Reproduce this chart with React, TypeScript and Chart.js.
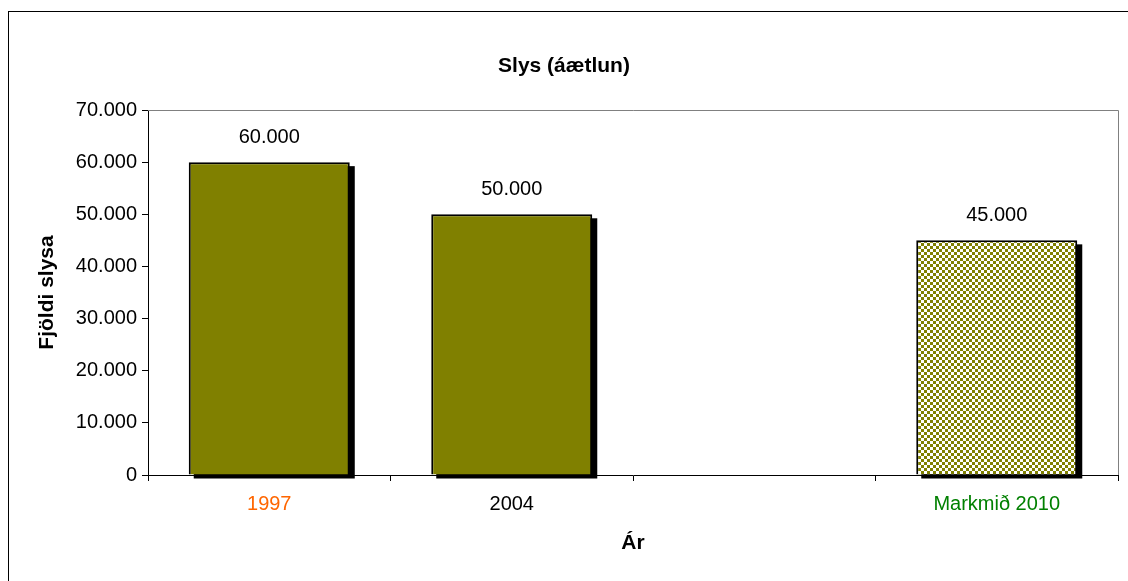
import React, { useEffect, useRef } from "react";
import { Chart, registerables } from "chart.js";

Chart.register(...registerables);

const categories = ["1997", "2004", "", "Markmið 2010"];
const values: (number | null)[] = [60000, 50000, null, 45000];
const labelColors = ["#FF6600", "#000000", "#000000", "#008000"];
const yTicks = [0, 10000, 20000, 30000, 40000, 50000, 60000, 70000];
const chartTitle = "Slys (áætlun)";
const yTitle = "Fjöldi slysa";
const xTitle = "Ár";

const FONT = "'Liberation Sans', Arial, sans-serif";
const OLIVE = "#808000";

function fmt(v: number): string {
  return Math.round(v).toString().replace(/\B(?=(\d{3})+(?!\d))/g, ".");
}

function makePattern(): CanvasPattern | string {
  const c = document.createElement("canvas");
  c.width = 6;
  c.height = 6;
  const g = c.getContext("2d");
  if (!g) return OLIVE;
  g.fillStyle = "#ffffff";
  g.fillRect(0, 0, 6, 6);
  g.fillStyle = OLIVE;
  g.fillRect(0, 0, 3, 3);
  g.fillRect(3, 3, 3, 3);
  const p = g.createPattern(c, "repeat");
  return p || OLIVE;
}

export default function App() {
  const ref = useRef<HTMLCanvasElement | null>(null);

  useEffect(() => {
    document.body.style.margin = "0";
    const canvas = ref.current;
    if (!canvas) return;
    const pattern = makePattern();

    const framePlugin = {
      id: "frame",
      beforeDraw(chart: any) {
        const ctx = chart.ctx;
        ctx.save();
        ctx.fillStyle = "#ffffff";
        ctx.fillRect(0, 0, chart.width, chart.height);
        ctx.strokeStyle = "#000000";
        ctx.lineWidth = 1;
        ctx.strokeRect(8.5, 11.5, 1130, 580);
        ctx.restore();
      },
      beforeDatasetsDraw(chart: any) {
        const ctx = chart.ctx;
        const a = chart.chartArea;
        ctx.save();
        ctx.strokeStyle = "#808080";
        ctx.lineWidth = 1;
        ctx.beginPath();
        ctx.moveTo(a.left, Math.round(a.top) + 0.5);
        ctx.lineTo(Math.round(a.right) + 0.5, Math.round(a.top) + 0.5);
        ctx.lineTo(Math.round(a.right) + 0.5, a.bottom);
        ctx.stroke();
        const meta = chart.getDatasetMeta(0);
        ctx.fillStyle = "#000000";
        meta.data.forEach((el: any, i: number) => {
          if (values[i] == null) return;
          const x = el.x - el.width / 2;
          ctx.fillRect(x + 5, el.y + 4, el.width, el.base - el.y);
        });
        ctx.restore();
      },
      afterDatasetsDraw(chart: any) {
        const ctx = chart.ctx;
        const meta = chart.getDatasetMeta(0);
        ctx.save();
        ctx.fillStyle = "#000000";
        ctx.font = `20px ${FONT}`;
        ctx.textAlign = "center";
        ctx.textBaseline = "middle";
        meta.data.forEach((el: any, i: number) => {
          const v = values[i];
          if (v == null) return;
          ctx.fillText(fmt(v), el.x, el.y - 25);
        });
        ctx.restore();
      },
    };

    const chart = new Chart(canvas, {
      type: "bar",
      data: {
        labels: categories,
        datasets: [
          {
            data: values as any,
            backgroundColor: [OLIVE, OLIVE, OLIVE, pattern] as any,
            borderColor: "#000000",
            borderWidth: 2,
            barPercentage: 0.664,
            categoryPercentage: 1,
          },
        ],
      },
      options: {
        responsive: false,
        animation: false,
        layout: { padding: { left: 10, right: 10, top: 0, bottom: 0 } },
        plugins: {
          legend: { display: false },
          tooltip: { enabled: false },
          title: {
            display: true,
            text: chartTitle,
            color: "#000000",
            font: { family: FONT, size: 21, weight: "bold", lineHeight: 1.2 },
            padding: { top: 54, bottom: 30.8 },
          },
        },
        scales: {
          x: {
            offset: true,
            grid: {
              offset: true,
              display: true,
              drawOnChartArea: false,
              drawTicks: true,
              tickLength: 6,
              color: "#000000",
            },
            border: { display: true, color: "#000000", width: 1 },
            ticks: {
              color: labelColors,
              font: { family: FONT, size: 20, lineHeight: 1.2 },
              padding: 11.5,
              maxRotation: 0,
              autoSkip: false,
            },
            title: {
              display: true,
              text: xTitle,
              color: "#000000",
              font: { family: FONT, size: 21, weight: "bold", lineHeight: 1.2 },
              padding: { top: 0, bottom: 25.4 },
            },
            afterFit(scale: any) {
              scale.height = 106;
            },
          },
          y: {
            min: 0,
            max: 70000,
            afterBuildTicks(scale: any) {
              scale.ticks = yTicks.map((v) => ({ value: v }));
            },
            grid: {
              display: true,
              drawOnChartArea: false,
              drawTicks: true,
              tickLength: 6,
              color: "#000000",
            },
            border: { display: true, color: "#000000", width: 1 },
            ticks: {
              color: "#000000",
              font: { family: FONT, size: 20 },
              padding: 5,
              callback: (v: any) => fmt(Number(v)),
            },
            title: {
              display: true,
              text: yTitle,
              color: "#000000",
              font: { family: FONT, size: 21, weight: "bold", lineHeight: 1.2 },
              padding: { top: 24.4, bottom: 0 },
            },
            afterFit(scale: any) {
              scale.width = 138;
            },
          },
        },
      },
      plugins: [framePlugin],
    });

    return () => chart.destroy();
  }, []);

  return (
    <div style={{ width: 1128, height: 581 }}>
      <canvas ref={ref} width={1128} height={581} style={{ display: "block" }} />
    </div>
  );
}
